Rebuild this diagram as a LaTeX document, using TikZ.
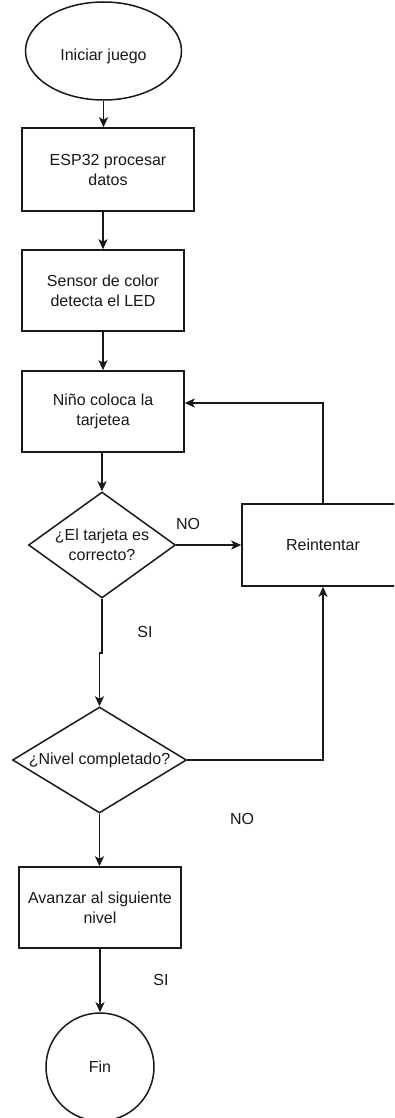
\documentclass[tikz,border=0pt]{standalone}
\usepackage{fontspec}
\setmainfont{Liberation Sans}
\usetikzlibrary{shapes.geometric,arrows.meta}
\begin{document}
\begin{tikzpicture}[x=1pt,y=1pt,
  every node/.style={font=\fontsize{16pt}{20pt}\selectfont, text=black!90},
  shapeline/.style={draw=black!90, line width=1.5pt},
  procbox/.style={shapeline, rectangle, align=center, inner sep=0pt},
  decision/.style={shapeline, diamond, inner sep=0pt},
  terminal/.style={shapeline, inner sep=0pt},
  arr/.style={draw=black!90, line width=1.5pt, -{Stealth[length=10pt,width=9pt,inset=2.5pt]}},
  edgelabel/.style={inner sep=0pt}
]
\clip (0,0) rectangle (394,-1118);
\fill[white] (0,0) rectangle (394,-1118);

% start and processing steps
\node[terminal, ellipse, minimum width=156pt, minimum height=98pt,
      label={[yshift=-5pt]center:Iniciar juego}] (start) at (103.5,-51) {};
\node[procbox, minimum width=172pt, minimum height=83pt] (b1) at (108,-169.5) {ESP32 procesar\\datos};
\node[procbox, minimum width=162pt, minimum height=81pt] (b2) at (103,-290.5) {Sensor de color\\detecta el LED};
\node[procbox, minimum width=162pt, minimum height=81pt] (b3) at (103,-411.5) {Niño coloca la\\tarjetea};

% decisions
\node[decision, minimum width=147pt, minimum height=106pt,
      label={[align=center]center:¿El tarjeta es\\correcto?}] (d1) at (102,-545) {};
\node[procbox, minimum width=162pt, minimum height=82pt] (re) at (323,-545) {Reintentar};
\node[decision, minimum width=174pt, minimum height=106pt,
      label={center:¿Nivel completado?}] (d2) at (99.5,-760) {};

% end of level
\node[procbox, minimum width=162pt, minimum height=81pt] (b4) at (100,-907.5) {Avanzar al siguiente\\nivel};
\node[terminal, circle, minimum size=108pt] (fin) at (100,-1067) {Fin};

% connectors
\draw[arr] (start.south) -- (start.south |- b1.north);
\draw[arr] (b2.north |- b1.south) -- (b2.north);
\draw[arr] (b2.south) -- (b3.north);
\draw[arr] (d1.north |- b3.south) -- (d1.north);
\draw[arr] (d1.south) -- ++(0,-54) -| (d2.north);
\draw[arr] (d2.south) -- (d2.south |- b4.north);
\draw[arr] (b4.south) -- (b4.south |- fin.north);
\draw[arr] (d1.east) -- (re.west);
\draw[arr] (d2.east) -| (re.south);
\draw[arr] (re.north) |- ([yshift=8.5pt]b3.east);

% branch labels
\node[edgelabel] (no1) at (188,-524) {NO};
\node[edgelabel] (si1) at (145,-632) {SI};
\node[edgelabel] (no2) at (242,-819) {NO};
\node[edgelabel] (si2) at (161,-980) {SI};
\end{tikzpicture}
\end{document}
